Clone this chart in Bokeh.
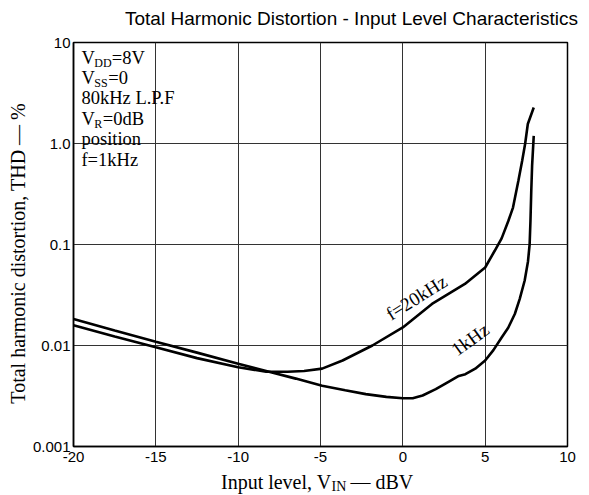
import math
from bokeh.plotting import figure
from bokeh.models import FixedTicker, Label, Range1d
from bokeh.layouts import column, row
from bokeh.core.properties import value
from bokeh.embed import file_html
from bokeh.resources import INLINE

# ---- data ----
x_ticks = [-20, -15, -10, -5, 0, 5, 10]
x_tick_labels = ["-20", "-15", "-10", "-5", "0", "5", "10"]
y_ticks = [0.001, 0.01, 0.1, 1, 10]
y_tick_labels = ["0.001", "0.01", "0.1", "1.0", "10"]

vin_1k = [-20, -17.5, -15, -12.5, -10, -8.3, -6.5, -4.9, -3.5, -2.25, -1, 0, 0.6, 1.2, 2.0, 2.8, 3.4, 3.8, 4.4, 5.0, 5.5, 6.0, 6.4, 6.8, 7.1, 7.4, 7.6, 7.7, 7.75, 7.8, 7.85, 7.95]
thd_1k = [0.0183, 0.0141, 0.0109, 0.0085, 0.0066, 0.0056, 0.0047, 0.0040, 0.0036, 0.0033, 0.0031, 0.0030, 0.0030, 0.0032, 0.0037, 0.0044, 0.0050, 0.0052, 0.0059, 0.0071, 0.0090, 0.012, 0.015, 0.0205, 0.029, 0.044, 0.068, 0.10, 0.17, 0.34, 0.60, 1.19]

vin_20k = [-20, -17.5, -15, -12.5, -10, -8.3, -7, -6, -4.9, -3.66, -1.85, 0, 1.77, 3.77, 5.0, 5.58, 6.0, 6.4, 6.69, 7.02, 7.25, 7.43, 7.59, 7.95]
thd_20k = [0.0159, 0.0123, 0.0096, 0.0075, 0.0061, 0.0055, 0.0055, 0.0056, 0.0059, 0.0071, 0.0100, 0.0151, 0.0258, 0.0407, 0.0592, 0.0867, 0.115, 0.17, 0.232, 0.43, 0.68, 1.0, 1.56, 2.27]

title_text = "Total Harmonic Distortion - Input Level Characteristics"
y_label_text = "Total harmonic distortion, THD \u2014 %"
x_label_parts = ["Input level, V", "IN", "\u2014 dBV"]
cond_lines = ["V|DD|=8V", "V|SS|=0", "80kHz L.P.F", "V|R|=0dB", "position", "f=1kHz"]
curve_labels = ["f=20kHz", "1kHz"]

SERIF = "Liberation Serif"
SANS = "Liberation Sans"


def blank(w, h, x0, y0):
    """Blank text strip whose ranges are page pixel coordinates."""
    f = figure(width=w, height=h, x_range=Range1d(x0, x0 + w), y_range=Range1d(y0 + h, y0),
               x_axis_type=None, y_axis_type=None, output_backend="svg",
               toolbar_location=None, min_border=0)
    f.outline_line_color = None
    f.background_fill_color = "white"
    f.border_fill_color = "white"
    return f


# ---- main plot ----
p = figure(width=559, height=437, x_range=(-20, 10), y_range=(0.001, 10),
           y_axis_type="log", output_backend="svg", toolbar_location=None,
           min_border_left=41, min_border_right=21, min_border_top=10, min_border_bottom=23)
p.background_fill_color = "white"
p.border_fill_color = "white"
p.outline_line_color = "black"
p.outline_line_width = 1.5

p.xaxis.ticker = FixedTicker(ticks=x_ticks, minor_ticks=[])
p.yaxis.ticker = FixedTicker(ticks=y_ticks, minor_ticks=[])
p.xaxis.major_label_overrides = {t: l for t, l in zip(x_ticks, x_tick_labels)}
p.yaxis.major_label_overrides = {t: l for t, l in zip(y_ticks, y_tick_labels)}
for ax in (p.xaxis, p.yaxis):
    ax.major_tick_line_color = None
    ax.minor_tick_line_color = None
    ax.major_tick_out = 0
    ax.major_tick_in = 0
    ax.minor_tick_out = 0
    ax.minor_tick_in = 0
    ax.axis_line_color = "black"
    ax.axis_line_width = 1.5
    ax.major_label_text_font = SANS
    ax.major_label_text_font_size = "15px"
    ax.major_label_text_color = "black"
p.xaxis.major_label_standoff = 5
p.yaxis.major_label_standoff = 3

p.xgrid.grid_line_color = "#333333"
p.ygrid.grid_line_color = "#333333"
p.xgrid.grid_line_width = 1
p.ygrid.grid_line_width = 1

p.line(vin_20k, thd_20k, line_color="black", line_width=2.6)
p.line(vin_1k, thd_1k, line_color="black", line_width=2.6)

# page pixel -> data helpers (inside the frame)
X0, X1, PX0, PX1 = -20, 10, 70, 567
PY_TOP, PY_BOT = 42, 446


def dx(px):
    return X0 + (px - PX0) * (X1 - X0) / (PX1 - PX0)


def dy(py):
    return 10 ** (1 - 4 * (py - PY_TOP) / (PY_BOT - PY_TOP))


def lab(text, px, py, size, align="left", angle=0.0):
    """py is the vertical middle of the text."""
    p.add_layout(Label(x=dx(px), y=dy(py), text=text, text_font=SERIF,
                       text_font_size=f"{size}px", text_align=align,
                       text_baseline="middle", angle=angle, text_color="black"))


# condition block with subscripts (py = middle of each line)
for i, line in enumerate(cond_lines):
    my = 57 + i * 20.4
    parts = line.split("|")
    if len(parts) == 1:
        lab(line, 78, my, 18.5)
    else:
        main, sub, rest = parts
        lab(main, 78, my, 18.5)
        lab(sub, 91, my + 5, 12)
        sub_w = {"DD": 17.5, "SS": 14, "R": 8.5}[sub]
        lab(rest, 91 + sub_w, my, 18.5)

# curve labels
lab(curve_labels[0], 415, 297, 19, align="center", angle=math.radians(32))
lab(curve_labels[1], 469, 339, 19, align="center", angle=math.radians(36))

# ---- title strip ----
top = blank(588, 32, 0, 0)
top.text(x=[351], y=[18], text=[title_text], text_font=value(SANS), text_font_size=value("19px"),
         text_align="center", text_baseline="middle", text_color="black")

# ---- y label strip ----
left = blank(29, 437, 0, 32)
left.text(x=[17.5], y=[260], text=[y_label_text], text_font=value(SERIF), text_font_size=value("20px"),
          text_align="center", text_baseline="middle", angle=math.pi / 2, text_color="black")

# ---- x label strip ----
bottom = blank(588, 25, 0, 469)
bottom.text(x=[331], y=[481], text=[x_label_parts[0]], text_font=value(SERIF), text_font_size=value("20px"),
            text_align="right", text_baseline="middle", text_color="black")
bottom.text(x=[331], y=[485.5], text=[x_label_parts[1]], text_font=value(SERIF), text_font_size=value("14px"),
            text_align="left", text_baseline="middle", text_color="black")
bottom.text(x=[350], y=[481], text=[x_label_parts[2]], text_font=value(SERIF), text_font_size=value("20px"),
            text_align="left", text_baseline="middle", text_color="black")

layout = column(top, row(left, p, spacing=0), bottom, spacing=0)
open("out.html", "w").write(file_html(layout, INLINE))
